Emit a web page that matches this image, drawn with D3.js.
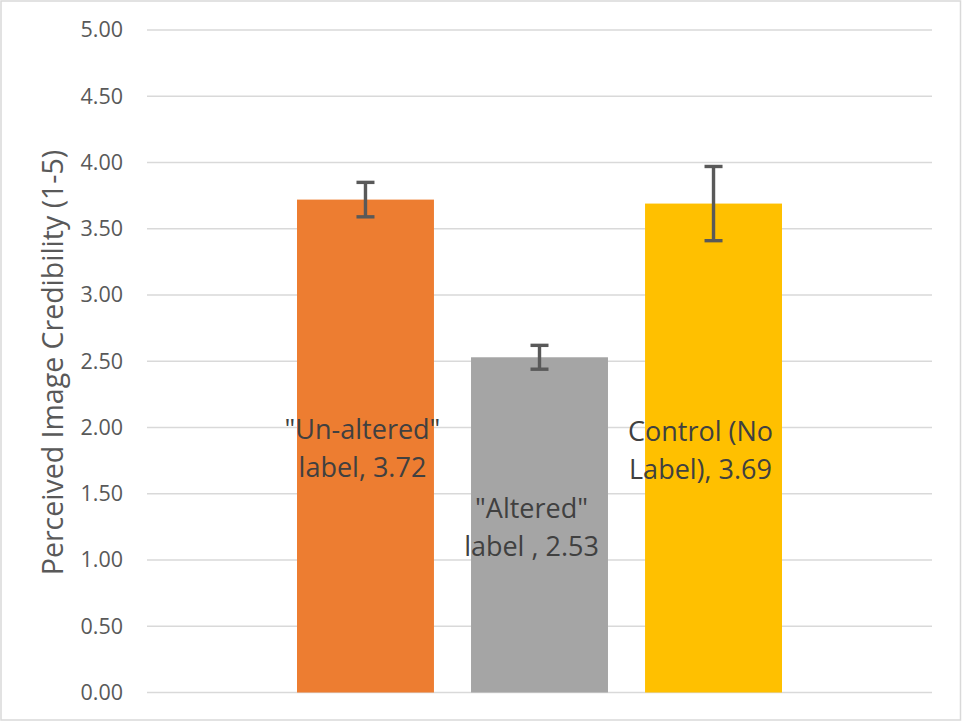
<!DOCTYPE html>
<html>
<head>
<meta charset="utf-8">
<script src="https://cdn.jsdelivr.net/npm/d3@7/dist/d3.min.js"></script>
<style>
  html, body { margin: 0; padding: 0; background: #fff; }
  svg { display: block; }
  text { font-family: "Open Sans", sans-serif; }
</style>
</head>
<body>
<svg id="chart" width="962" height="721"></svg>
<script>
// ---- data ----
const series = ['"Un-altered" label', '"Altered" label ', 'Control (No Label)'];
const labelLines = [['"Un-altered"', 'label, 3.72'], ['"Altered"', 'label , 2.53'], ['Control (No', 'Label), 3.69']];
const values = [3.72, 2.53, 3.69];
const errors = [0.13, 0.09, 0.28];
const colors = ['#ED7D31', '#A5A5A5', '#FFC000'];
const yTicks = [0, 0.5, 1, 1.5, 2, 2.5, 3, 3.5, 4, 4.5, 5];
const yTitle = 'Perceived Image Credibility (1-5)';

const W = 962, H = 721;
const plot = { left: 147, right: 932, top: 30, bottom: 692.5 };
const labelDx = [-3, -8, -13];
const svg = d3.select('#chart');

// outer border
svg.append('rect').attr('x', 1).attr('y', 1).attr('width', W - 2.5).attr('height', H - 2)
  .attr('fill', '#fff').attr('stroke', '#d9d9d9').attr('stroke-width', 1.5);

const y = d3.scaleLinear().domain([0, 5]).range([plot.bottom, plot.top]);
const x = d3.scaleBand().domain(series)
  .range([plot.left + 150, plot.right - 150])
  .paddingInner(0.213).paddingOuter(0);

// gridlines
svg.append('g').selectAll('line').data(yTicks).join('line')
  .attr('x1', plot.left).attr('x2', plot.right)
  .attr('y1', d => y(d)).attr('y2', d => y(d))
  .attr('stroke', '#d9d9d9').attr('stroke-width', 1.5);

// y axis tick labels via d3 axis
const yAxis = d3.axisLeft(y).tickValues(yTicks).tickFormat(d3.format('.2f')).tickSize(0).tickPadding(0);
const ga = svg.append('g').attr('transform', `translate(${plot.left - 24},0)`).call(yAxis);
ga.select('.domain').remove();
ga.selectAll('text').attr('fill', '#595959').style('font-size', '21.5px')
  .style('font-family', '"Open Sans", sans-serif');

// bars
svg.append('g').selectAll('rect').data(values).join('rect')
  .attr('x', (d, i) => x(series[i]))
  .attr('y', d => y(d))
  .attr('width', x.bandwidth())
  .attr('height', d => y(0) - y(d))
  .attr('fill', (d, i) => colors[i]);

// error bars
const eg = svg.append('g').attr('stroke', '#595959').attr('stroke-width', 3.4);
values.forEach((v, i) => {
  const cx = x(series[i]) + x.bandwidth() / 2;
  const e = errors[i];
  eg.append('line').attr('x1', cx).attr('x2', cx).attr('y1', y(v + e)).attr('y2', y(v - e));
  [v + e, v - e].forEach(t => {
    eg.append('line').attr('x1', cx - 9).attr('x2', cx + 9).attr('y1', y(t)).attr('y2', y(t));
  });
});

// data labels
const lg = svg.append('g');
values.forEach((v, i) => {
  const cx = x(series[i]) + x.bandwidth() / 2 + labelDx[i];
  const cy = y(v / 2);
  const t = lg.append('text').attr('text-anchor', 'middle').attr('fill', '#404040')
    .style('font-size', '27px');
  labelLines[i].forEach((ln, k) => {
    t.append('tspan').attr('x', cx).attr('y', cy + (k - 0.5) * 38.5 + 12).text(ln);
  });
});

// y title
svg.append('text')
  .attr('transform', `translate(63,${(150 + 575) / 2}) rotate(-90)`)
  .attr('text-anchor', 'middle').attr('fill', '#595959')
  .style('font-size', '28.5px')
  .text(yTitle);
</script>
</body>
</html>
